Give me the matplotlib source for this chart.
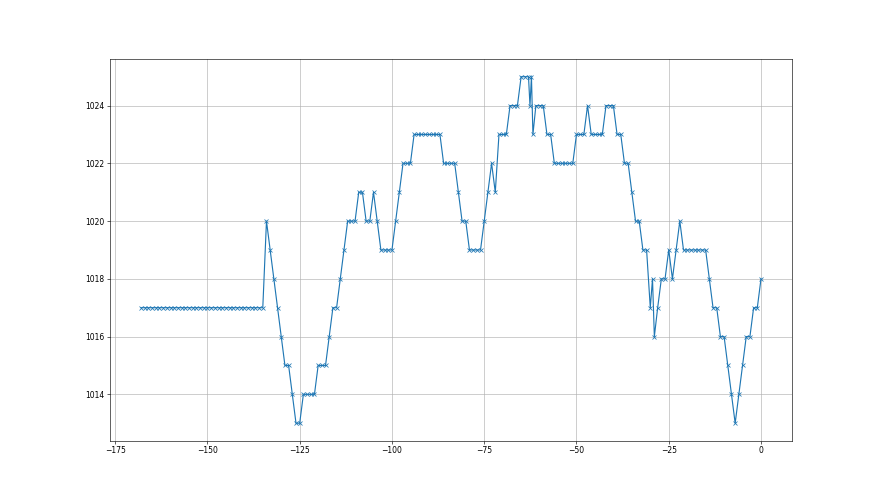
import matplotlib
matplotlib.use("Agg")
import matplotlib.pyplot as plt

# Horas relativas (lecturas horarias, con algunas lecturas extra intercaladas)
horas = (list(range(-168, -62)) + [-62.6, -62.2, -61.8]
         + list(range(-61, -29)) + [-29.4, -28.9] + list(range(-28, 1)))

# Presión (hPa)
presion = [
    # -168 .. -135
    1017, 1017, 1017, 1017, 1017, 1017, 1017, 1017, 1017, 1017,
    1017, 1017, 1017, 1017, 1017, 1017, 1017, 1017, 1017, 1017,
    1017, 1017, 1017, 1017, 1017, 1017, 1017, 1017, 1017, 1017,
    1017, 1017, 1017, 1017,
    # -134 .. -63
    1020, 1019, 1018, 1017, 1016, 1015, 1015, 1014, 1013, 1013,
    1014, 1014, 1014, 1014, 1015, 1015, 1015, 1016, 1017, 1017,
    1018, 1019, 1020, 1020, 1020, 1021, 1021, 1020, 1020, 1021,
    1020, 1019, 1019, 1019, 1019, 1020, 1021, 1022, 1022, 1022,
    1023, 1023, 1023, 1023, 1023, 1023, 1023, 1023, 1022, 1022,
    1022, 1022, 1021, 1020, 1020, 1019, 1019, 1019, 1019, 1020,
    1021, 1022, 1021, 1023, 1023, 1023, 1024, 1024, 1024, 1025,
    1025, 1025,
    # lecturas extra
    1024, 1025, 1023,
    # -61 .. -30
    1024, 1024, 1024, 1023, 1023, 1022, 1022, 1022, 1022, 1022,
    1022, 1023, 1023, 1023, 1024, 1023, 1023, 1023, 1023, 1024,
    1024, 1024, 1023, 1023, 1022, 1022, 1021, 1020, 1020, 1019,
    1019, 1017,
    # lecturas extra
    1018, 1016,
    # -28 .. 0
    1017, 1018, 1018, 1019, 1018, 1019, 1020, 1019, 1019, 1019,
    1019, 1019, 1019, 1019, 1018, 1017, 1017, 1016, 1016, 1015,
    1014, 1013, 1014, 1015, 1016, 1016, 1017, 1017, 1018,
]

assert len(horas) == len(presion)

fig = plt.figure(figsize=(16, 9), dpi=55)
plt.plot(horas, presion, marker="x", color="#1f77b4")
plt.grid(True)
plt.savefig("out.png", dpi=55)
